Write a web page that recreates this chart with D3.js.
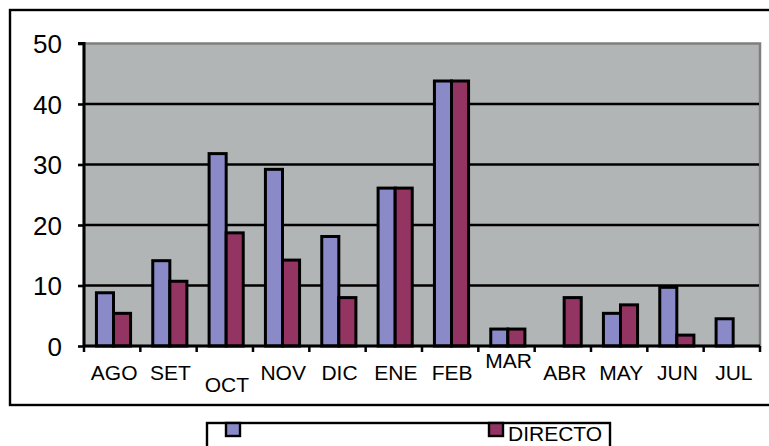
<!DOCTYPE html>
<html><head><meta charset="utf-8">
<script src="https://cdn.jsdelivr.net/npm/d3@7"></script>
<style>body{margin:0;background:#fff}svg{display:block;font-family:"Liberation Sans",Arial,sans-serif}</style>
</head><body><svg id="c" width="769" height="446"></svg>
<script>
const categories = ["AGO","SET","OCT","NOV","DIC","ENE","FEB","MAR","ABR","MAY","JUN","JUL"];
const seriesNames = ["", "DIRECTO"];
const seriesA = [8.8, 14.1, 31.8, 29.2, 18.1, 26.1, 43.8, 2.8, 0, 5.4, 9.7, 4.5];
const seriesB = [5.4, 10.7, 18.7, 14.2, 8.0, 26.1, 43.8, 2.8, 8.0, 6.8, 1.8, 0];
const yTicks = [0, 10, 20, 30, 40, 50];
const labelShift = [0, 0, 1, 0, 0, 0, 0, -1, 0, 0, 0, 0];
const colors = ["#8a8ac8", "#943463"];

const svg = d3.select("#c");
const L = 84, R = 760, T = 43.5, B = 346;

// outer frame
svg.append("rect").attr("x",10).attr("y",10).attr("width",800).attr("height",395)
  .attr("fill","none").attr("stroke","#000").attr("stroke-width",2.4);

const x0 = d3.scaleBand().domain(categories).range([L, R]).paddingInner(0).paddingOuter(0);
const x1 = d3.scaleBand().domain([0,1]).range([0, x0.bandwidth()]).paddingInner(0).paddingOuter(0.65).align(0.56);
const y = d3.scaleLinear().domain([0, 50]).range([B, T]);

// plot area
svg.append("rect").attr("x",L).attr("y",T).attr("width",R-L).attr("height",B-T)
  .attr("fill","#b2b5b6").attr("stroke","#7f7f7f").attr("stroke-width",2.5);

// gridlines
svg.append("g").selectAll("line").data(yTicks.filter(v=>v>0 && v<50)).join("line")
  .attr("x1",L).attr("x2",R-1).attr("y1",d=>y(d)).attr("y2",d=>y(d))
  .attr("stroke","#000").attr("stroke-width",2.6);

// bars
const data = [];
categories.forEach((c,i)=>{
  [seriesA[i], seriesB[i]].forEach((v,s)=>{ if(v>0) data.push({c, s, v}); });
});
svg.append("g").selectAll("rect").data(data).join("rect")
  .attr("x",d=>x0(d.c)+x1(d.s)).attr("width",x1.bandwidth())
  .attr("y",d=>y(d.v)).attr("height",d=>y(0)-y(d.v))
  .attr("fill",d=>colors[d.s]).attr("stroke","#000").attr("stroke-width",3);

// y axis
const ya = d3.axisLeft(y).tickValues(yTicks).tickSize(6).tickPadding(16).tickFormat(d3.format("d"));
const yg = svg.append("g").attr("transform",`translate(${L},0)`).call(ya);
yg.select(".domain").attr("stroke","#000").attr("stroke-width",3).attr("d",`M-6,${T}H0V${B}`);
yg.selectAll(".tick line").attr("stroke","#000").attr("stroke-width",2.6);
yg.selectAll(".tick text").attr("font-size",26).attr("fill","#000").attr("dy","0.36em")
  .attr("font-family","Liberation Sans, Arial, sans-serif");

// x axis
const xa = d3.axisBottom(x0).tickSize(0).tickPadding(0);
const xg = svg.append("g").attr("transform",`translate(0,${B})`).call(xa);
xg.select(".domain").attr("stroke","#000").attr("stroke-width",3).attr("d",`M${L},0H${R}`);
xg.selectAll(".tick text").attr("font-size",21).attr("fill","#000")
  .attr("font-family","Liberation Sans, Arial, sans-serif")
  .attr("dy",null).attr("y",(d,i)=>34 + labelShift[i]*12).attr("dx",2);
// category boundary ticks
svg.append("g").selectAll("line").data(categories.concat(["__end"])).join("line")
  .attr("x1",(d,i)=> i<categories.length ? x0(d) : R)
  .attr("x2",(d,i)=> i<categories.length ? x0(d) : R)
  .attr("y1",B).attr("y2",B+6).attr("stroke","#000").attr("stroke-width",2.5);

// legend
const lg = svg.append("g");
lg.append("rect").attr("x",207).attr("y",423).attr("width",403).attr("height",60)
  .attr("fill","#fff").attr("stroke","#000").attr("stroke-width",2.4);
const legX = [226, 489];
seriesNames.forEach((n,i)=>{
  lg.append("rect").attr("x",legX[i]).attr("y",423).attr("width",14).attr("height",13)
    .attr("fill",colors[i]).attr("stroke","#000").attr("stroke-width",2.4);
  lg.append("text").attr("x",legX[i]+19).attr("y",441).attr("font-size",21).attr("fill","#000").text(n);
});
</script></body></html>
